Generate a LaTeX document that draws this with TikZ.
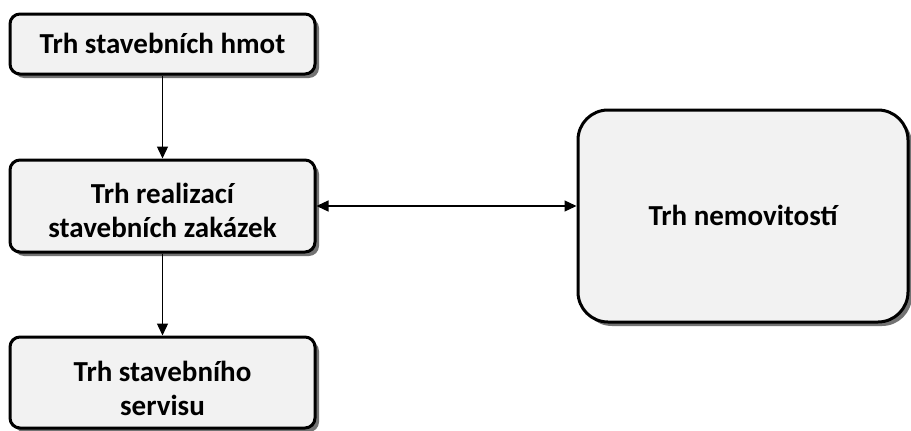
\documentclass[tikz,border=0pt]{standalone}
\usepackage{fontspec}
\setmainfont{Carlito}
\usepackage{tikz}
\usetikzlibrary{arrows.meta,shadows}
\tikzset{
  market/.style={draw,line width=3pt,fill=black!5,rounded corners=10pt,
    align=center,font=\fontsize{29}{34}\selectfont\bfseries,
    text height=18pt,text depth=0pt,
    drop shadow={shadow xshift=4pt,shadow yshift=-4pt,fill=black!55,opacity=1}},
  link/.style={line width=1.3pt,-{Triangle[length=12pt,width=11pt]}}
}
\begin{document}
\begin{tikzpicture}[x=1pt,y=-1pt]
      \useasboundingbox (0,0) rectangle (911,431);
      % the left column
      \node[market,minimum width=305pt,minimum height=60pt] (hmot) at (162.5,44) {Trh stavebních hmot};
      \node[market,minimum width=305pt,minimum height=92pt,text height=62pt] (realizace) at (162.5,206) {Trh realizací\\stavebních zakázek};
      \node[market,minimum width=305pt,minimum height=91pt,text height=65pt] (servis) at (162.5,382.5) {Trh stavebního\\servisu};
      % the right box
      \node[market,rounded corners=30pt,minimum width=330pt,minimum height=212pt] (nemovitosti) at (743,216) {Trh nemovitostí};
      %% arrows
      \draw[link] (hmot) -- (realizace);
      \draw[link] (realizace) -- (servis);
      \draw[link,{Triangle[length=12pt,width=11pt]}-{Triangle[length=12pt,width=11pt]}] (realizace.east) -- (realizace.east -| nemovitosti.west);
\end{tikzpicture}
\end{document}
